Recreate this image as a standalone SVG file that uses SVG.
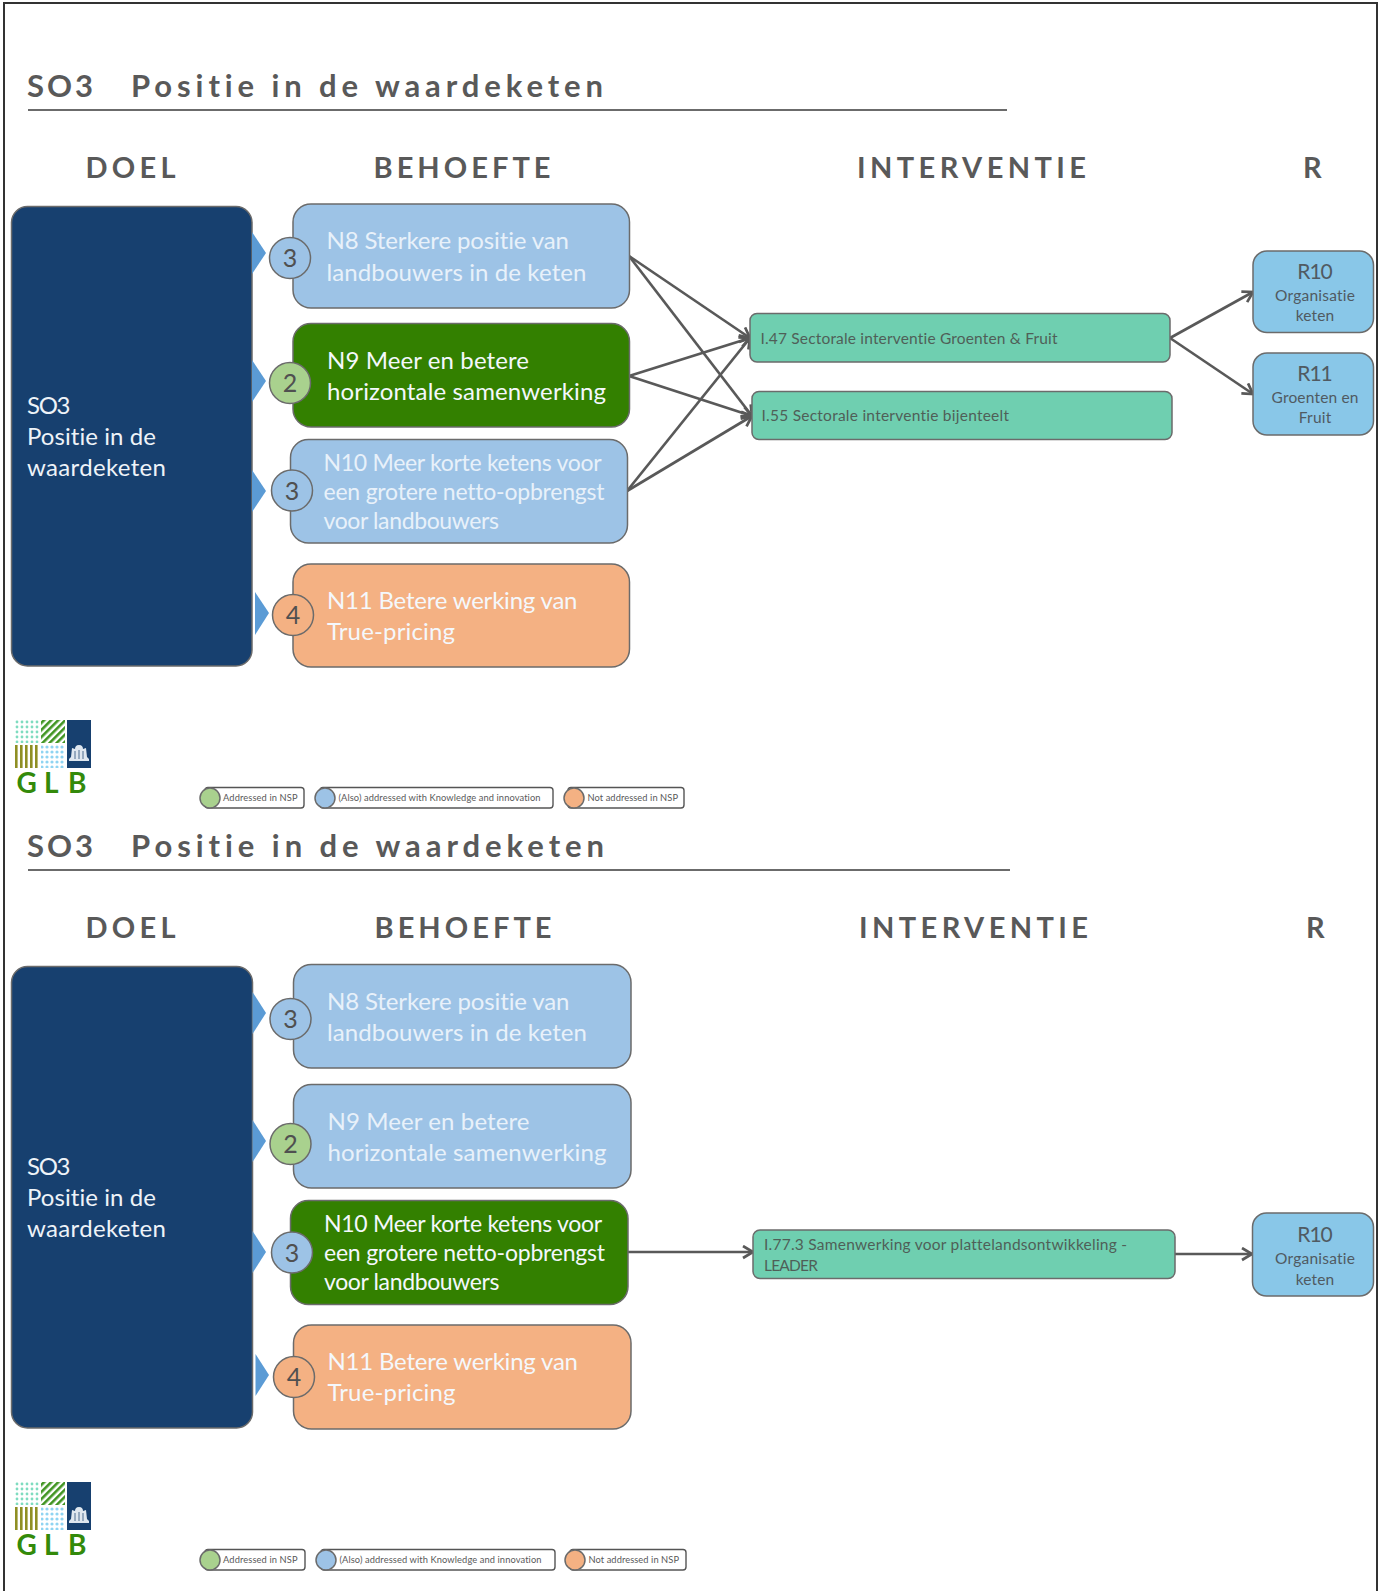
<svg xmlns="http://www.w3.org/2000/svg" width="1386" height="1591" viewBox="0 0 1386 1591">
<style>
text{font-family:"Lato","Carlito","Liberation Sans",sans-serif;font-variant-ligatures:none}
.box{stroke:#6b6b6b;stroke-width:1.5}
.goal{fill:#17406f}
.blue{fill:#9dc3e6}.green{fill:#338000}.orange{fill:#f4b183}.lgreen{fill:#a9d18e}
.teal{fill:#6fcfb0}.res{fill:#89c7e8}
.tri{fill:#5b9bd5}
.cn{fill:none;stroke:#595959;stroke-width:2.7;marker-end:url(#arr)}
.w{fill:#f4f8fc;font-size:24px}
.pale{fill:#e8f1fa;font-size:24px}
.w2{fill:#f4f8fc;font-size:23px}
.pale2{fill:#e8f1fa;font-size:23px}
.gt{fill:#eef3f8;font-size:24px}
.title{fill:#595959;font-size:31px;font-weight:700}
.head{fill:#595959;font-size:29px;font-weight:700}
.num{fill:#505050;font-size:25px;text-anchor:middle}
.it{fill:#4f5f58;font-size:15.5px}
.r1{fill:#505a62;font-size:21px;text-anchor:middle}
.r2{fill:#505a62;font-size:15.5px;text-anchor:middle}
.leg{fill:#595959;font-size:9.3px}
.lb{fill:#fff;stroke:#555;stroke-width:1.4}
.glb{fill:#338a0a;font-size:28px;font-weight:700}
.rule{stroke:#6b6b6b;stroke-width:2}
</style>
<defs>
<marker id="arr" markerUnits="userSpaceOnUse" markerWidth="16" markerHeight="16" refX="12" refY="7" orient="auto"><path d="M2 1 L12 7 L2 13" fill="none" stroke="#595959" stroke-width="2.7"/></marker>
<pattern id="pDots" width="5" height="5" patternUnits="userSpaceOnUse"><circle cx="2" cy="2" r="1.4" fill="#7fdcc0"/></pattern>
<pattern id="pStripe" width="5" height="5" patternUnits="userSpaceOnUse" patternTransform="rotate(45)"><rect width="2.6" height="5" fill="#3f9420"/></pattern>
<pattern id="pBar" width="5" height="5" patternUnits="userSpaceOnUse"><rect width="2.6" height="5" fill="#8f8f24"/></pattern>
<pattern id="pLight" width="5" height="5" patternUnits="userSpaceOnUse"><circle cx="2" cy="2" r="1.6" fill="#8fd4f2"/></pattern>
<g id="logoMark">
<rect x="15" y="0" width="24" height="23" fill="url(#pDots)"/>
<rect x="41" y="0" width="24" height="23" fill="url(#pStripe)"/>
<rect x="15" y="25" width="24" height="23" fill="url(#pBar)"/>
<rect x="41" y="25" width="24" height="23" fill="url(#pLight)"/>
<rect x="67" y="0" width="24" height="48" fill="#17406f"/>
<path d="M79 25c3 0 4 2 4 4l3-1 1 9 2 2v2H69v-2l2-2 1-9 3 1c0-2 1-4 4-4z" fill="#dfe7ef"/>
<path d="M79 30v9M75 31v8M83 31v8" stroke="#4d6c8f" stroke-width="1" fill="none"/>
</g>
</defs>
<rect width="1386" height="1591" fill="#fff"/>
<path d="M4 1591V3H1377V1591" fill="none" stroke="#333" stroke-width="2"/>

<g id="connectors">
<path class="cn" d="M629 256L750 338"/><path class="cn" d="M629 256L752 416"/>
<path class="cn" d="M629 376L750 338"/><path class="cn" d="M629 376L752 416"/>
<path class="cn" d="M627 491L750 338"/><path class="cn" d="M627 491L752 416"/>
<path class="cn" d="M1170 338L1253 292"/><path class="cn" d="M1170 338L1253 394"/>
<path class="cn" d="M628 1252L753 1252"/><path class="cn" d="M1175 1254L1252 1254"/>
</g>

<g id="slide1-title">
<text class="title" x="27" y="97" textLength="66">SO3</text><text class="title" x="131" y="97" textLength="472">Positie in de waardeketen</text>
<line class="rule" x1="28" y1="110" x2="1007" y2="110"/>
<text class="head" x="85.500" y="178" textLength="90">DOEL</text><text class="head" x="373.500" y="178" textLength="177">BEHOEFTE</text><text class="head" x="857" y="178" textLength="229">INTERVENTIE</text><text class="head" x="1303" y="178" textLength="18">R</text>
</g>
<g id="s1-doel">
<rect class="box goal" x="11.500" y="206.500" width="240.500" height="459.500" rx="16"/>
<path class="tri" d="M252 232L266 253L252 274Z"/><path class="tri" d="M252 360L266 381L252 402Z"/><path class="tri" d="M252 470L266 491L252 512Z"/><path class="tri" d="M255 592L269 613L255 635Z"/>
<text class="gt" x="27" y="414" textLength="43.500">SO3</text><text class="gt" x="27" y="445" textLength="129">Positie in de</text><text class="gt" x="27" y="476" textLength="139">waardeketen</text>
</g>
<g id="s1-n8"><rect class="box blue" x="293" y="204" width="336.500" height="104" rx="18"/><text class="pale" x="326.500" y="249" textLength="242.500">N8 Sterkere positie van</text><text class="pale" x="326.500" y="280.500" textLength="260">landbouwers in de keten</text><circle class="box blue" cx="290" cy="258" r="20.500"/><text class="num" x="290" y="267">3</text></g>
<g id="s1-n9"><rect class="box green" x="293" y="323.500" width="336.500" height="103.500" rx="18"/><text class="w" x="327" y="369" textLength="202">N9 Meer en betere</text><text class="w" x="327" y="400" textLength="279">horizontale samenwerking</text><circle class="box lgreen" cx="290" cy="383" r="20.500"/><text class="num" x="290" y="392">2</text></g>
<g id="s1-n10"><rect class="box blue" x="290.500" y="439.500" width="337" height="103.500" rx="18"/><text class="pale2" x="323.500" y="471" textLength="278">N10 Meer korte ketens voor</text><text class="pale2" x="323.500" y="500" textLength="281">een grotere netto-opbrengst</text><text class="pale2" x="323.500" y="529" textLength="175.500">voor landbouwers</text><circle class="box blue" cx="292" cy="490.500" r="20.500"/><text class="num" x="292" y="499.500">3</text></g>
<g id="s1-n11"><rect class="box orange" x="293" y="564" width="336.500" height="103" rx="18"/><text class="w" x="327" y="608.500" textLength="250.500">N11 Betere werking van</text><text class="w" x="327" y="639.500" textLength="128">True-pricing</text><circle class="box orange" cx="293" cy="615" r="20.500"/><text class="num" x="293" y="624">4</text></g>
<g id="s1-i47"><rect class="box teal" x="750" y="313.500" width="420" height="48.500" rx="7"/><text class="it" x="760.500" y="344" textLength="297">I.47 Sectorale interventie Groenten &amp; Fruit</text></g>
<g id="s1-i55"><rect class="box teal" x="752" y="391.500" width="420" height="48" rx="7"/><text class="it" x="761.500" y="421" textLength="247.500">I.55 Sectorale interventie bijenteelt</text></g>
<g id="s1-r10"><rect class="box res" x="1253" y="251" width="120.500" height="81.500" rx="14"/><text class="r1" x="1315" y="279" textLength="35.500">R10</text><text class="r2" x="1315" y="301" textLength="80">Organisatie</text><text class="r2" x="1315" y="321" textLength="38.500">keten</text></g>
<g id="s1-r11"><rect class="box res" x="1253" y="353" width="120.500" height="82" rx="14"/><text class="r1" x="1315" y="381" textLength="35.500">R11</text><text class="r2" x="1315" y="403" textLength="87">Groenten en</text><text class="r2" x="1315" y="423" textLength="32.500">Fruit</text></g>
<g id="s1-logo"><use href="#logoMark" y="720"/><text class="glb" x="16.500 44 68" y="793">GLB</text></g>
<g id="s1-legend">
<rect class="lb" x="205" y="787.500" width="99" height="20.500" rx="3"/><circle class="box lgreen" cx="210" cy="798" r="10"/><text class="leg" x="223" y="801" textLength="74.500">Addressed in NSP</text>
<rect class="lb" x="320" y="787.500" width="233" height="20.500" rx="3"/><circle class="box blue" cx="325" cy="798" r="10"/><text class="leg" x="338.500" y="801" textLength="202">(Also) addressed with Knowledge and innovation</text>
<rect class="lb" x="568" y="787.500" width="116" height="20.500" rx="3"/><circle class="box orange" cx="574" cy="798" r="10"/><text class="leg" x="587.500" y="801" textLength="90.500">Not addressed in NSP</text>
</g>

<g id="slide2-title">
<text class="title" x="27" y="857" textLength="66">SO3</text><text class="title" x="131" y="857" textLength="473">Positie in de waardeketen</text>
<line class="rule" x1="28" y1="870" x2="1010" y2="870"/>
<text class="head" x="85.500" y="938" textLength="90">DOEL</text><text class="head" x="374.500" y="938" textLength="177">BEHOEFTE</text><text class="head" x="859" y="938" textLength="229">INTERVENTIE</text><text class="head" x="1306" y="938" textLength="18">R</text>
</g>
<g id="s2-doel">
<rect class="box goal" x="11.500" y="966.500" width="241" height="461.500" rx="16"/>
<path class="tri" d="M252.500 992L266 1013L252.500 1034Z"/><path class="tri" d="M252.500 1120L266 1141L252.500 1162Z"/><path class="tri" d="M252.500 1231L266 1252L252.500 1273Z"/><path class="tri" d="M255.500 1354L269 1375L255.500 1396Z"/>
<text class="gt" x="27" y="1175" textLength="43.500">SO3</text><text class="gt" x="27" y="1206" textLength="129">Positie in de</text><text class="gt" x="27" y="1237" textLength="139">waardeketen</text>
</g>
<g id="s2-n8"><rect class="box blue" x="293.500" y="964.500" width="337.500" height="103.500" rx="18"/><text class="pale" x="327" y="1010" textLength="242.500">N8 Sterkere positie van</text><text class="pale" x="327" y="1041" textLength="260">landbouwers in de keten</text><circle class="box blue" cx="290.500" cy="1019" r="20.500"/><text class="num" x="290.500" y="1028">3</text></g>
<g id="s2-n9"><rect class="box blue" x="293.500" y="1084.500" width="337.500" height="103.500" rx="18"/><text class="pale" x="327.500" y="1130" textLength="202">N9 Meer en betere</text><text class="pale" x="327.500" y="1161" textLength="279">horizontale samenwerking</text><circle class="box lgreen" cx="290.500" cy="1144" r="20.500"/><text class="num" x="290.500" y="1153">2</text></g>
<g id="s2-n10"><rect class="box green" x="290.500" y="1200.500" width="337.500" height="104" rx="18"/><text class="w2" x="324" y="1232" textLength="278">N10 Meer korte ketens voor</text><text class="w2" x="324" y="1261" textLength="281">een grotere netto-opbrengst</text><text class="w2" x="324" y="1290" textLength="175.500">voor landbouwers</text><circle class="box blue" cx="292" cy="1252.500" r="20.500"/><text class="num" x="292" y="1261.500">3</text></g>
<g id="s2-n11"><rect class="box orange" x="293.500" y="1325" width="337.500" height="104" rx="18"/><text class="w" x="327.500" y="1370" textLength="250.500">N11 Betere werking van</text><text class="w" x="327.500" y="1401" textLength="128">True-pricing</text><circle class="box orange" cx="294" cy="1377" r="20.500"/><text class="num" x="294" y="1386">4</text></g>
<g id="s2-i77"><rect class="box teal" x="753" y="1230" width="422" height="48.500" rx="7"/><text class="it" x="764" y="1250" textLength="363">I.77.3 Samenwerking voor plattelandsontwikkeling -</text><text class="it" x="764" y="1271" textLength="54">LEADER</text></g>
<g id="s2-r10"><rect class="box res" x="1252.500" y="1213" width="121" height="83" rx="14"/><text class="r1" x="1315" y="1242" textLength="35.500">R10</text><text class="r2" x="1315" y="1264" textLength="80">Organisatie</text><text class="r2" x="1315" y="1285" textLength="38.500">keten</text></g>
<g id="s2-logo"><use href="#logoMark" y="1482"/><text class="glb" x="16.500 44 68" y="1555">GLB</text></g>
<g id="s2-legend">
<rect class="lb" x="205" y="1549.500" width="100" height="20.500" rx="3"/><circle class="box lgreen" cx="210" cy="1560" r="10"/><text class="leg" x="223" y="1563" textLength="74.500">Addressed in NSP</text>
<rect class="lb" x="321" y="1549.500" width="234" height="20.500" rx="3"/><circle class="box blue" cx="326" cy="1560" r="10"/><text class="leg" x="339.500" y="1563" textLength="202">(Also) addressed with Knowledge and innovation</text>
<rect class="lb" x="570" y="1549.500" width="116" height="20.500" rx="3"/><circle class="box orange" cx="575" cy="1560" r="10"/><text class="leg" x="588.500" y="1563" textLength="90.500">Not addressed in NSP</text>
</g>
</svg>
